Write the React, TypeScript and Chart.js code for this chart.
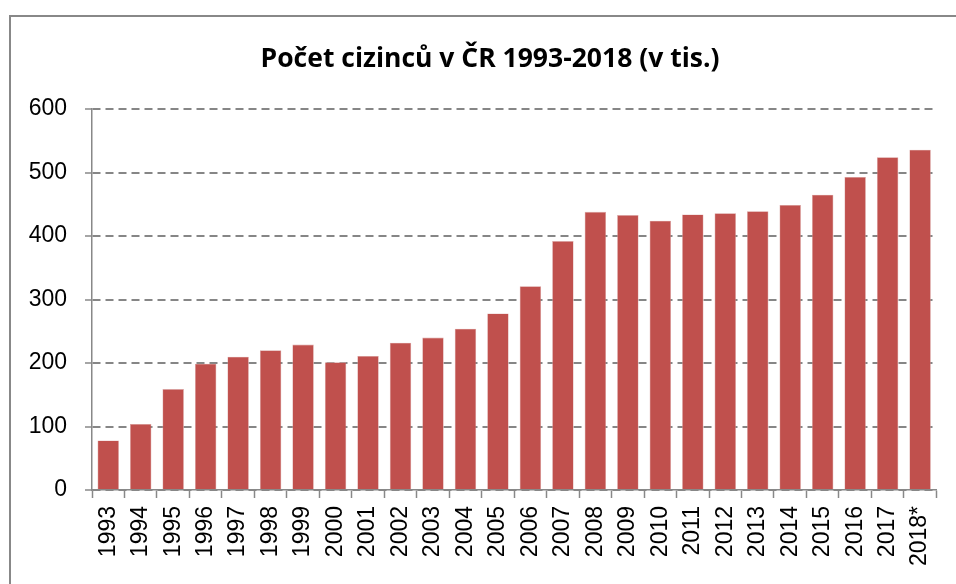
import React, { useEffect, useRef } from "react";
import { Chart, registerables } from "chart.js";

Chart.register(...registerables);

const categories = [
  "1993", "1994", "1995", "1996", "1997", "1998", "1999", "2000", "2001",
  "2002", "2003", "2004", "2005", "2006", "2007", "2008", "2009", "2010",
  "2011", "2012", "2013", "2014", "2015", "2016", "2017", "2018*",
];
const foreigners = [
  78, 104, 159, 199, 210, 220, 229, 201, 211, 232, 240, 254, 278, 321, 392,
  438, 433, 424, 434, 436, 439, 449, 465, 493, 524, 536,
];
const yTicks = [0, 100, 200, 300, 400, 500, 600];
const titleText = "Počet cizinců v ČR 1993-2018 (v tis.)";

const titlePlugin = {
  id: "centeredTitle",
  afterDraw(chart: any) {
    const ctx = chart.ctx;
    ctx.save();
    ctx.fillStyle = "#000";
    ctx.font = "bold 26.5px 'Open Sans', Lato, sans-serif";
    ctx.textAlign = "center";
    ctx.textBaseline = "middle";
    ctx.fillText(titleText, 490, 59);
    ctx.restore();
  },
};

export default function App() {
  const ref = useRef<HTMLCanvasElement | null>(null);

  useEffect(() => {
    if (!ref.current) return;
    const chart = new Chart(ref.current, {
      type: "bar",
      data: {
        labels: categories,
        datasets: [
          {
            data: foreigners,
            backgroundColor: "#C0504D",
            borderColor: "#D9A3A2",
            borderWidth: 0.6,
            categoryPercentage: 1,
            barPercentage: 0.66,
          },
        ],
      },
      plugins: [titlePlugin],
      options: {
        animation: false,
        responsive: false,
        maintainAspectRatio: false,
        layout: { padding: { left: 8, right: 15, top: 109, bottom: 0 } },
        plugins: {
          legend: { display: false },
          tooltip: { enabled: false },
          title: { display: false },
        },
        scales: {
          x: {
            grid: {
              display: true,
              drawOnChartArea: false,
              drawTicks: true,
              offset: true,
              tickLength: 8,
              tickColor: "#888",
              tickWidth: 1.5,
            },
            border: { display: true, color: "#888", width: 1.5 },
            ticks: {
              minRotation: 90,
              maxRotation: 90,
              autoSkip: false,
              padding: 8,
              color: "#000",
              font: { family: "'Liberation Sans', Arial, sans-serif", size: 23 },
            },
            afterFit: (s: any) => {
              s.height = 94;
            },
          },
          y: {
            min: 0,
            max: 600,
            afterBuildTicks: (s: any) => {
              s.ticks = yTicks.map((v) => ({ value: v }));
            },
            grid: {
              color: "#868686",
              lineWidth: 2,
              drawTicks: true,
              tickLength: 7,
              tickColor: "#888",
              tickBorderDash: [],
              tickWidth: 1.5,
            },
            border: { display: true, color: "#888", width: 1.5, dash: [8, 5] },
            ticks: {
              padding: 18,
              color: "#000",
              font: { family: "'Liberation Sans', Arial, sans-serif", size: 23 },
            },
            afterFit: (s: any) => {
              s.width = 84;
            },
          },
        },
      },
    });
    return () => chart.destroy();
  }, []);

  return (
    <div
      style={{
        position: "fixed",
        left: 0,
        top: 0,
        width: 956,
        height: 584,
        background: "#fff",
        overflow: "hidden",
      }}
    >
      <canvas ref={ref} width={956} height={584} style={{ position: "absolute", left: 0, top: 0 }} />
      <div
        style={{
          position: "absolute",
          left: 9,
          top: 15,
          width: 1000,
          height: 700,
          border: "2px solid #888",
          pointerEvents: "none",
        }}
      />
    </div>
  );
}
